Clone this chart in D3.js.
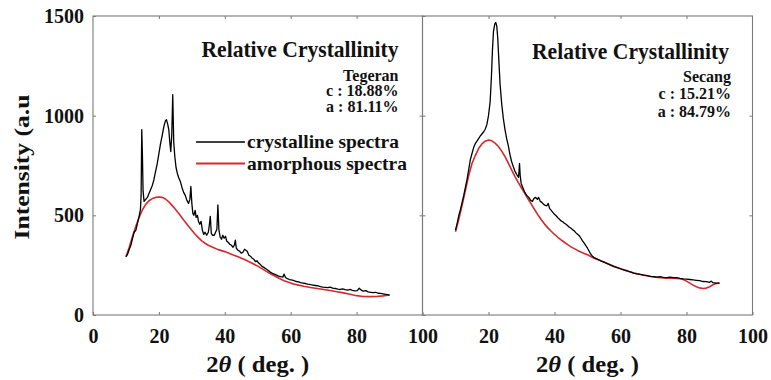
<!DOCTYPE html>
<html><head><meta charset="utf-8">
<script src="https://cdn.jsdelivr.net/npm/d3@7"></script>
</head>
<body style="margin:0;padding:0;background:#fff"><svg id="c" width="771" height="380"></svg>
<script>
// ---- data: [2θ (deg), intensity (a.u)] ----
const tegeranCrystalline = [[10,292],[10.5,305],[11,330],[11.5,350],[12,385],[12.5,415],[13,425],[13.5,460],[14,495],[14.4,530],[14.6,600],[14.8,930],[15.0,800],[15.2,620],[15.5,570],[16,580],[16.5,590],[17,610],[17.5,630],[18,650],[18.5,680],[19,720],[19.5,760],[20,810],[20.5,860],[21,900],[21.5,945],[22,975],[22.3,980],[22.7,955],[23,930],[23.3,870],[23.6,820],[23.9,900],[24.2,1105],[24.5,870],[24.8,800],[25.2,740],[25.6,710],[26,690],[26.5,670],[27,640],[27.5,615],[28,600],[28.5,575],[29,560],[29.4,580],[29.7,645],[30,560],[30.3,510],[30.6,500],[31,525],[31.3,490],[31.7,500],[32,470],[32.4,455],[32.8,470],[33.2,425],[33.6,405],[34,415],[34.5,400],[35,415],[35.3,450],[35.6,495],[35.9,410],[36.3,400],[36.8,400],[37.2,415],[37.6,430],[37.9,552],[38.2,430],[38.6,390],[39,380],[39.4,400],[39.8,385],[40.2,395],[40.6,370],[41,365],[41.5,355],[42,350],[42.5,340],[42.9,350],[43.2,375],[43.5,335],[44,325],[44.5,320],[45,310],[45.5,315],[46,330],[46.4,325],[46.8,320],[47.3,300],[47.8,295],[48.3,285],[48.8,280],[49.3,268],[49.8,272],[50.2,262],[50.7,255],[51.2,245],[51.7,240],[52.2,235],[52.8,228],[53.3,222],[53.8,215],[54.3,210],[55,205],[55.7,200],[56.3,195],[57,192],[57.6,190],[58,205],[58.4,188],[59,182],[59.6,178],[60.2,176],[61,172],[61.7,168],[62.4,166],[63,162],[63.8,160],[64.5,158],[65.2,155],[66,152],[66.8,150],[67.5,148],[68.3,146],[69,142],[69.8,140],[70.5,139],[71.2,137],[72,140],[72.7,135],[73.5,133],[74.3,130],[75,128],[75.8,131],[76.5,127],[77.3,125],[78,128],[78.7,124],[79.5,121],[80.2,122],[80.8,134],[81.3,126],[82,120],[82.8,122],[83.5,116],[84.3,114],[85,112],[85.8,114],[86.5,109],[87.3,108],[88,106],[88.8,104],[89.5,102],[90,100]];
const tegeranAmorphous = [[10,292],[11,340],[12,395],[13,445],[14,490],[15,528],[16,555],[17,573],[18,584],[19,590],[20,592],[21,590],[22,582],[23,568],[24,550],[25,530],[26,510],[27,488],[28,466],[29,445],[30,425],[31,405],[32,388],[33,372],[34,360],[35,350],[36,342],[37,335],[38,328],[40,318],[42,305],[44,292],[46,278],[48,262],[50,245],[52,225],[54,205],[56,188],[58,172],[60,160],[62,151],[64,144],[66,138],[68,133],[70,128],[72,123],[74,117],[76,111],[78,104],[80,97],[82,93],[84,92],[86,93],[88,96],[90,100]];
const secangCrystalline = [[10,426],[10.5,460],[11,500],[11.5,530],[12,565],[12.5,600],[13,640],[13.5,680],[14,730],[14.5,780],[15,810],[15.5,840],[16,860],[16.5,872],[17,885],[17.5,898],[18,908],[18.5,918],[19,932],[19.5,955],[20,1000],[20.5,1070],[20.9,1200],[21.2,1330],[21.5,1420],[21.9,1460],[22.2,1468],[22.5,1450],[22.8,1390],[23.1,1290],[23.5,1160],[24,1060],[24.5,985],[25,930],[25.5,885],[26,850],[26.5,805],[27,770],[27.5,745],[28,722],[28.5,706],[29.1,690],[29.4,760],[29.6,700],[29.9,660],[30.4,640],[31,615],[31.6,600],[32.2,590],[32.8,575],[33.3,570],[33.8,585],[34.3,590],[34.8,580],[35.2,590],[35.7,570],[36.2,565],[36.7,555],[37.2,550],[37.7,548],[38.1,560],[38.5,535],[39,525],[39.5,515],[40,505],[40.5,498],[41,488],[41.5,480],[42,472],[42.5,468],[43,460],[43.5,455],[44,448],[44.5,440],[45,435],[45.5,428],[46,422],[46.5,412],[47,405],[47.5,398],[48,385],[48.5,372],[49,360],[49.5,348],[50,335],[50.5,320],[51,305],[51.5,295],[52,288],[53,280],[54,272],[55,265],[56,258],[57,250],[58,243],[59,238],[60,232],[61,226],[62,222],[63,216],[64,210],[65,206],[66,204],[67,200],[68,197],[69,194],[70,193],[71,190],[72,192],[73,189],[74,188],[75,190],[76,187],[77,188],[78,184],[79,181],[80,180],[81,178],[82,176],[83,174],[84,172],[85,168],[86,167],[87,164],[87.5,170],[88,162],[89,160],[90,160]];
const secangAmorphous = [[10,418],[11,480],[12,550],[13,625],[14,700],[15,760],[16,800],[17,835],[18,858],[19,872],[20,878],[21,874],[22,862],[23,845],[24,822],[25,795],[26,762],[27,728],[28,695],[29,665],[30,637],[31,610],[32,582],[33,555],[34,528],[35,502],[36,478],[37,456],[38,437],[39,420],[40,404],[41,390],[42,377],[43,365],[44,353],[45,342],[46,333],[47,324],[48,316],[49,309],[50,302],[52,285],[54,272],[56,258],[58,245],[60,232],[62,221],[64,211],[66,203],[68,197],[70,191],[72,187],[74,185],[76,184],[78,182],[79,178],[80,170],[81,160],[82,150],[83,142],[84,136],[85,133],[86,135],[87,142],[88,152],[89,158],[90,160]];

const yTicks = [0, 500, 1000, 1500];
const xTicksLeft = [0, 20, 40, 60, 80, 100];
const xTicksRight = [20, 40, 60, 80, 100];
const seriesNames = ["crystalline spectra", "amorphous spectra"];
const panelTitle = "Relative Crystallinity";
const panelInfo = [["Tegeran", "c : 18.88%", "a : 81.11%"], ["Secang", "c : 15.21%", "a : 84.79%"]];

// ---- layout ----
const FONT = "'Liberation Serif'";
const svg = d3.select("#c");
const yTop = 16, yBottom = 315;
const panels = [{x0: 93, x1: 422.5}, {x0: 422.5, x1: 752.5}];
const y = d3.scaleLinear().domain([0, 1500]).range([yBottom, yTop]);
const axisColor = "#7a7a7a";
const colors = ["#000000", "#d42a2e"];

function txt(sel, size) {
  return sel.style("font-family", FONT).style("font-weight", "bold").style("font-size", size + "px").style("fill", "#111");
}
function styleAxis(g, showLabels) {
  g.attr("font-family", null);
  g.select(".domain").remove();
  g.selectAll(".tick line").attr("stroke", axisColor).attr("stroke-width", 1);
  txt(g.selectAll(".tick text"), 20);
  if (!showLabels) g.selectAll(".tick text").remove();
}

const data = [[tegeranCrystalline, tegeranAmorphous], [secangCrystalline, secangAmorphous]];

panels.forEach((p, i) => {
  const x = d3.scaleLinear().domain([0, 100]).range([p.x0, p.x1]);
  const g = svg.append("g");
  const gb = g.append("g").attr("transform", `translate(0,${yBottom})`)
    .call(d3.axisBottom(x).tickValues(i === 0 ? xTicksLeft : xTicksRight).tickSizeInner(-3).tickSizeOuter(0).tickPadding(14).tickFormat(d3.format("d")));
  styleAxis(gb, true);
  const gt = g.append("g").attr("transform", `translate(0,${yTop})`)
    .call(d3.axisTop(x).tickValues([20, 40, 60, 80]).tickSizeInner(-3).tickSizeOuter(0));
  styleAxis(gt, false);
  const gl = g.append("g").attr("transform", `translate(${p.x0},0)`)
    .call(d3.axisLeft(y).tickValues(yTicks).tickSizeInner(-3).tickSizeOuter(0).tickPadding(9).tickFormat(d3.format("d")));
  styleAxis(gl, i === 0);
  const gr = g.append("g").attr("transform", `translate(${p.x1},0)`)
    .call(d3.axisRight(y).tickValues([500, 1000]).tickSizeInner(-3).tickSizeOuter(0));
  styleAxis(gr, false);
  g.append("rect").attr("x", p.x0).attr("y", yTop).attr("width", p.x1 - p.x0).attr("height", yBottom - yTop)
    .attr("fill", "none").attr("stroke", axisColor).attr("stroke-width", 1.1);

  const line = d3.line().x(d => x(d[0])).y(d => y(d[1]));
  [1, 0].forEach(k => {
    g.append("path").datum(data[i][k]).attr("d", line).attr("fill", "none")
      .attr("stroke", colors[k]).attr("stroke-width", k === 0 ? 1.3 : 1.6).attr("stroke-linejoin", "round");
  });

  const xt = txt(g.append("text").attr("x", (p.x0 + p.x1) / 2).attr("y", 372).attr("text-anchor", "middle"), 24);
  xt.append("tspan").text("2");
  xt.append("tspan").style("font-style", "italic").text("θ");
  xt.append("tspan").text(" ( deg. )");
  xt.attr("textLength", 103).attr("lengthAdjust", "spacingAndGlyphs");

  const rx = i === 0 ? 398.5 : 729;
  const ty = i === 0 ? 57 : 59;
  txt(g.append("text").attr("x", rx).attr("y", ty).attr("text-anchor", "end"), 23)
    .attr("textLength", 197).attr("lengthAdjust", "spacingAndGlyphs").text(panelTitle);
  const infoY = i === 0 ? [80.5, 96, 111.5] : [81.5, 99, 116.5];
  panelInfo[i].forEach((t, j) => {
    txt(g.append("text").attr("x", i === 0 ? 398.5 : 731).attr("y", infoY[j]).attr("text-anchor", "end"), 16).text(t);
  });
});

txt(svg.append("text").attr("transform", "translate(29,167) rotate(-90)").attr("text-anchor", "middle"), 22)
  .attr("textLength", 145).attr("lengthAdjust", "spacingAndGlyphs").text("Intensity (a.u");

const lg = svg.append("g");
const legY = [142, 163.5];
const legW = [152, 160];
seriesNames.forEach((n, k) => {
  lg.append("line").attr("x1", 196).attr("x2", 245).attr("y1", legY[k]).attr("y2", legY[k])
    .attr("stroke", colors[k]).attr("stroke-width", k === 0 ? 1.5 : 1.8);
  txt(lg.append("text").attr("x", 247).attr("y", legY[k] + 6), 19.5)
    .attr("textLength", legW[k]).attr("lengthAdjust", "spacingAndGlyphs").text(n);
});
</script></body></html>
